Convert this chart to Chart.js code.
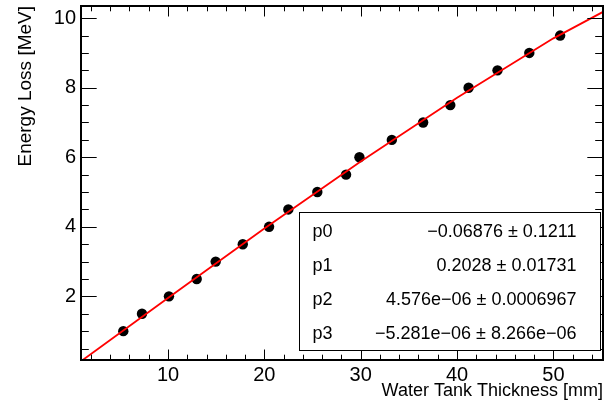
<!DOCTYPE html>
<html>
<head>
<meta charset="utf-8">
<script src="https://cdn.jsdelivr.net/npm/chart.js@4"></script>
<style>
  html, body { margin: 0; padding: 0; background: #fff; }
</style>
</head>
<body>
<canvas id="c" width="616" height="412"></canvas>
<script>
// data
const thickness = [5.36, 7.3, 10.1, 12.98, 14.95, 17.76, 20.49, 22.49, 25.5, 28.48, 29.87, 33.23, 36.48, 39.3, 41.2, 44.2, 47.5, 50.7];
const energyLoss = [1, 1.5, 2, 2.5, 3, 3.5, 4, 4.5, 5, 5.5, 6, 6.5, 7, 7.5, 8, 8.5, 9, 9.5];
// red fit curve, read at a few points
const fitX = [1, 10, 20, 30, 40, 50, 55.15];
const fitY = [0.14, 1.95, 3.95, 5.88, 7.71, 9.42, 10.18];
const xTicks = [10, 20, 30, 40, 50];
const yTicks = [2, 4, 6, 8, 10];
const parNames = ["p0", "p1", "p2", "p3"];
const parValues = ["\u22120.06876 \u00b1 0.1211", "0.2028 \u00b1 0.01731", "4.576e\u221206 \u00b1 0.0006967", "\u22125.281e\u221206 \u00b1 8.266e\u221206"];

const family = "'Liberation Sans', Arial, sans-serif";
const font = { family: family, size: 18 };
const yTitleFont = { family: family, size: 19 };
const tickFont = { family: family, size: 20 };

// ROOT style frame: inner ticks on all four sides + stats box
const rootFrame = {
  id: "rootFrame",
  afterDraw(chart) {
    const { ctx, chartArea: a, scales: { x, y } } = chart;
    ctx.save();
    ctx.strokeStyle = "#000";
    ctx.lineWidth = 1;
    ctx.beginPath();
    for (let v = 2; v <= 54; v += 2) {
      const px = Math.round(x.getPixelForValue(v)) + 0.5;
      const len = v % 10 === 0 ? 10.5 : 5.3;
      ctx.moveTo(px, a.bottom); ctx.lineTo(px, a.bottom - len);
      ctx.moveTo(px, a.top); ctx.lineTo(px, a.top + len);
    }
    for (let i = 1; i <= 20; i++) {
      const v = i * 0.5;
      const py = Math.round(y.getPixelForValue(v)) + 0.5;
      const len = i % 4 === 0 ? 15.7 : 7.8;
      ctx.moveTo(a.left, py); ctx.lineTo(a.left + len, py);
      ctx.moveTo(a.right, py); ctx.lineTo(a.right - len, py);
    }
    ctx.stroke();
    ctx.lineWidth = 2;
    ctx.strokeRect(a.left, a.top, a.right - a.left, a.bottom - a.top);

    // fit parameter box
    const bx = 299.5, by = 212.5, bw = 301, bh = 138;
    ctx.fillStyle = "#fff";
    ctx.fillRect(bx, by, bw, bh);
    ctx.lineWidth = 1;
    ctx.strokeRect(bx, by, bw, bh);
    ctx.fillStyle = "#000";
    ctx.font = "18px " + family;
    ctx.textBaseline = "middle";
    parNames.forEach((n, i) => {
      const ty = by + 20 + i * 34;
      ctx.textAlign = "left";
      ctx.fillText(n, bx + 13, ty);
      ctx.textAlign = "right";
      ctx.fillText(parValues[i], bx + 277, ty);
    });
    ctx.restore();
  }
};

new Chart(document.getElementById("c"), {
  type: "scatter",
  data: {
    datasets: [
      {
        data: fitX.map((v, i) => ({ x: v, y: fitY[i] })),
        showLine: true,
        borderColor: "#ff0000",
        borderWidth: 1.8,
        pointRadius: 0,
        fill: false,
        order: 0,
      },
      {
        data: thickness.map((v, i) => ({ x: v, y: energyLoss[i] })),
        backgroundColor: "#000",
        borderWidth: 0,
        pointRadius: 5.2,
        order: 1,
      },
    ],
  },
  options: {
    responsive: false,
    animation: false,
    layout: { padding: { left: 0, right: 13, top: 6, bottom: 0 } },
    plugins: { legend: { display: false }, tooltip: { enabled: false } },
    scales: {
      x: {
        type: "linear",
        min: 0.97,
        max: 55.15,
        afterBuildTicks: (s) => { s.ticks = xTicks.map((v) => ({ value: v })); },
        afterFit: (s) => { s.height = 52; s.paddingLeft = 0; s.paddingRight = 0; },
        grid: { display: false, drawTicks: false },
        border: { display: false },
        ticks: { font: tickFont, color: "#000", padding: 3, maxRotation: 0 },
        title: {
          display: true, text: "Water Tank Thickness [mm]", align: "end",
          font: font, color: "#000", padding: { top: 0, bottom: 10 },
        },
      },
      y: {
        type: "linear",
        min: 0.17,
        max: 10.35,
        afterBuildTicks: (s) => { s.ticks = yTicks.map((v) => ({ value: v })); },
        afterFit: (s) => { s.width = 81; s.paddingTop = 0; s.paddingBottom = 0; },
        grid: { display: false, drawTicks: false },
        border: { display: false },
        ticks: { font: tickFont, color: "#000", padding: 5 },
        title: {
          display: true, text: "Energy Loss [MeV]", align: "end",
          font: yTitleFont, color: "#000", padding: { top: 14.5, bottom: 0 },
        },
      },
    },
  },
  plugins: [rootFrame],
});
</script>
</body>
</html>
